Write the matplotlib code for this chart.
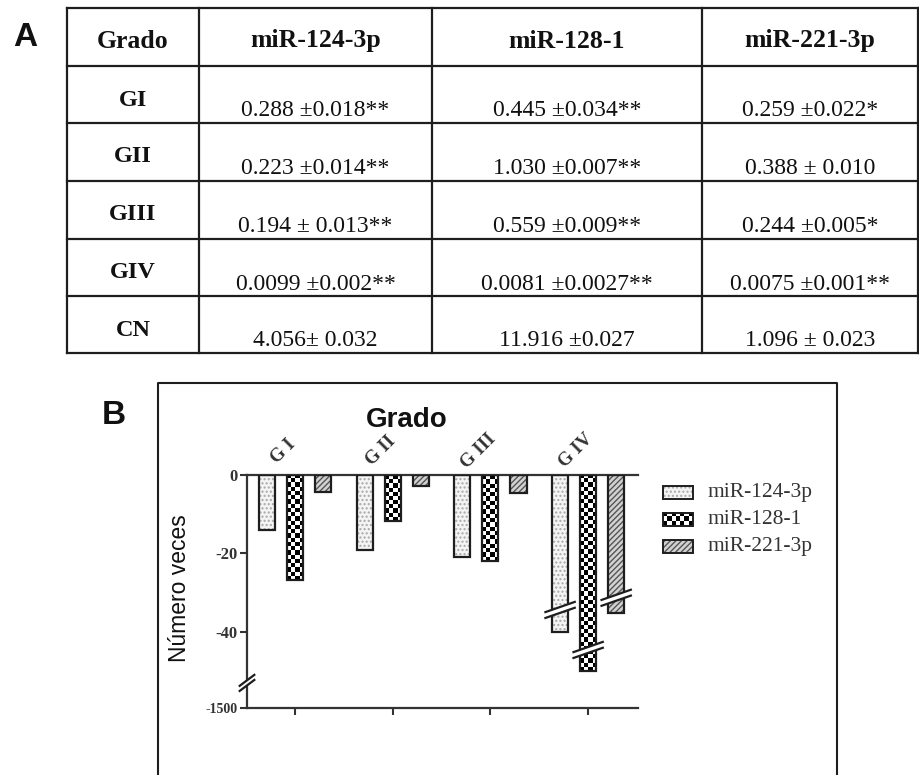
import matplotlib.pyplot as plt
import numpy as np
from matplotlib.patches import Rectangle, Polygon

# ---- data ----
row_labels = ['GI', 'GII', 'GIII', 'GIV', 'CN']
mirnas = ['miR-124-3p', 'miR-128-1', 'miR-221-3p']
vals_124 = ['0.288 ±0.018**', '0.223 ±0.014**', '0.194 ± 0.013**', '0.0099 ±0.002**', '4.056± 0.032']
vals_128 = ['0.445 ±0.034**', '1.030 ±0.007**', '0.559 ±0.009**', '0.0081 ±0.0027**', '11.916 ±0.027']
vals_221 = ['0.259 ±0.022*', '0.388 ± 0.010', '0.244 ±0.005*', '0.0075 ±0.001**', '1.096 ± 0.023']

grades = ['G I', 'G II', 'G III', 'G IV']
# fold change shown in the bars (GIV bars are drawn on a broken axis)
fold_124 = [-14.1, -19.0, -20.9, -40.0]
fold_128 = [-26.8, -11.6, -21.8, -50.0]
fold_221 = [-4.3, -2.8, -4.6, -35.2]
ytick_vals = [-59.4, -40, -20, 0]
ytick_labels = ['-1500', '-40', '-20', '0']

SERIF = 'Liberation Serif'
SANS = 'Liberation Sans'
LINE = '#1e1e1e'

W, H = 919, 775
fig = plt.figure(figsize=(W / 100, H / 100), dpi=100)

# overlay in pixel coordinates for the table, panel box, labels and legend
ov = fig.add_axes([0, 0, 1, 1])
ov.set_xlim(0, W)
ov.set_ylim(H, 0)
ov.axis('off')

# ---- panel A: table ----
col_x = [67, 199, 432, 702, 918]
row_y = [8, 66, 123, 181, 239, 296, 353]
for x in col_x:
    ov.plot([x, x], [row_y[0], row_y[-1]], color=LINE, lw=1.6)
for y in row_y:
    ov.plot([col_x[0], col_x[-1]], [y, y], color=LINE, lw=1.6)

headers = ['Grado'] + mirnas
for c, txt in enumerate(headers):
    xc = (col_x[c] + col_x[c + 1]) / 2
    ov.text(xc, 41, txt, ha='center', va='center', family=SERIF,
            fontweight='bold', fontsize=18.5, color='#111')

columns = [vals_124, vals_128, vals_221]
for r, lab in enumerate(row_labels):
    top = row_y[r + 1]
    bot = row_y[r + 2]
    ov.text((col_x[0] + col_x[1]) / 2, top + 34, lab, ha='center', va='center',
            family=SERIF, fontweight='bold', fontsize=17.5, color='#111')
    for c, col in enumerate(columns):
        xc = (col_x[c + 1] + col_x[c + 2]) / 2
        ov.text(xc, bot - 12, col[r], ha='center', va='center', family=SERIF,
                fontsize=17, color='#111')

ov.text(25, 38, 'A', ha='center', va='center', family=SANS, fontweight='bold',
        fontsize=24, color='#111')
ov.text(114, 416, 'B', ha='center', va='center', family=SANS, fontweight='bold',
        fontsize=24, color='#111')

# ---- panel B box ----
ov.plot([158, 158, 837, 837], [H + 5, 383, 383, H + 5], color=LINE, lw=1.5)
ov.text(407, 420, 'Grado', ha='center', va='center', family=SANS,
        fontweight='bold', fontsize=20, color='#111')
ov.text(180, 588, 'Número veces', ha='center', va='center', rotation=90,
        family=SANS, fontsize=16.5, color='#111')


def checker(axis, x0, x1, y0, y1, nx, ny, clip=None, z=2):
    arr = np.add.outer(np.arange(ny), np.arange(nx)) % 2
    im = axis.imshow(arr, cmap='gray', vmin=0, vmax=1, extent=(x0, x1, y0, y1),
                     interpolation='nearest', aspect='auto', zorder=z)
    if clip is not None:
        im.set_clip_path(clip)
    return im


# ---- chart ----
ax = fig.add_axes([247 / W, 1 - 708 / H, (638 - 247) / W, (708 - 475) / H])
ax.set_facecolor('none')
px_per_unit = (708 - 475) / 59.4
xs = np.arange(len(grades))
offsets = [-0.287, 0.0, 0.287]
bw = 0.165

b1 = ax.bar(xs + offsets[0], fold_124, bw, color='#f4f4f4', hatch='....',
            edgecolor='#a8a8a8', lw=0, zorder=2)
b2 = ax.bar(xs + offsets[1], fold_128, bw, color='white', lw=0, zorder=2)
b3 = ax.bar(xs + offsets[2], fold_221, bw, color='#d2d2d2', hatch='//////',
            edgecolor='#555555', lw=0, zorder=2)
for rect, v in zip(b2.patches, fold_128):
    x0 = rect.get_x()
    ny = max(1, int(round(abs(v) * px_per_unit / 4.2)))
    checker(ax, x0, x0 + bw, v, 0, 4, ny, clip=rect, z=2.5)
for s, vals in enumerate([fold_124, fold_128, fold_221]):
    ax.bar(xs + offsets[s], vals, bw, fill=False, edgecolor=LINE, lw=1.6, zorder=3)


def brk(axis, xc, yc, hx, hy, gap, lw=1.6):
    xl, xr = xc - hx, xc + hx
    poly = Polygon([(xl, yc - hy - gap), (xr, yc + hy - gap),
                    (xr, yc + hy + gap), (xl, yc - hy + gap)],
                   closed=True, facecolor='white', edgecolor='none', zorder=4,
                   clip_on=False)
    axis.add_patch(poly)
    for g in (-gap, gap):
        axis.plot([xl, xr], [yc - hy + g, yc + hy + g], color=LINE, lw=lw,
                  zorder=5, clip_on=False)


# break marks on the GIV bars and on the y axis
brk(ax, 3 + offsets[0], -34.4, 0.15, 1.3, 0.75)
brk(ax, 3 + offsets[1], -44.6, 0.15, 1.3, 0.75)
brk(ax, 3 + offsets[2], -31.3, 0.15, 1.3, 0.75)
brk(ax, -0.49, -53.0, 0.075, 1.4, 0.65)

ax.set_xlim(-0.49, 3.51)
ax.set_ylim(-59.4, 0)
ax.spines['right'].set_visible(False)
for side in ['left', 'top', 'bottom']:
    ax.spines[side].set_color('#333')
    ax.spines[side].set_linewidth(1.6)

ax.set_xticks(xs)
ax.set_xticklabels([])
ax.tick_params(axis='x', length=5, width=1.5, color='#333', direction='out')
ax.set_yticks(ytick_vals)
ax.set_yticklabels(ytick_labels, family=SERIF, fontweight='bold', fontsize=12,
                   color='#333')
ax.get_yticklabels()[0].set_fontsize(10)
ax.tick_params(axis='y', length=5, width=1.5, color='#333', direction='out', pad=2)

for i, lab in enumerate(grades):
    ax.annotate(lab, xy=(i, 0), xycoords='data', xytext=(-12, 24),
                textcoords='offset pixels', ha='center', va='center',
                rotation=45, family=SERIF, fontweight='bold', fontsize=13.5,
                color='#333', annotation_clip=False)

# ---- legend ----
leg_y = [492, 519, 546]
lx0, lx1, lh = 663, 693, 13
ov.add_patch(Rectangle((lx0, leg_y[0] - lh / 2), lx1 - lx0, lh, facecolor='#f4f4f4',
                       hatch='....', edgecolor='#a8a8a8', lw=0))
checker(ov, lx0, lx1, leg_y[1] + lh / 2, leg_y[1] - lh / 2, 7, 3)
ov.add_patch(Rectangle((lx0, leg_y[2] - lh / 2), lx1 - lx0, lh, facecolor='#d2d2d2',
                       hatch='//////', edgecolor='#555555', lw=0))
for y, name in zip(leg_y, mirnas):
    ov.add_patch(Rectangle((lx0, y - lh / 2), lx1 - lx0, lh, fill=False,
                           edgecolor=LINE, lw=1.4, zorder=3))
    ov.text(708, y, name, ha='left', va='center', family=SERIF, fontsize=15.5,
            color='#333')
ov.set_xlim(0, W)
ov.set_ylim(H, 0)

fig.savefig('out.png', dpi=100)
